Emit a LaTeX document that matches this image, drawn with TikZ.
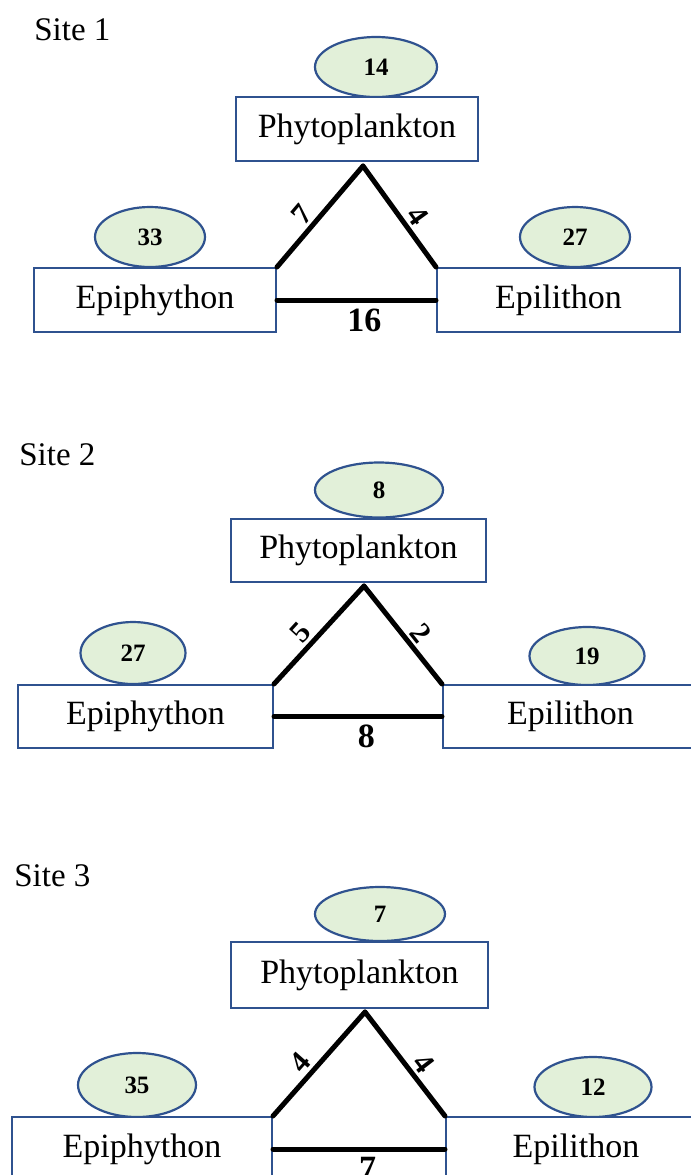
\documentclass[tikz,border=0pt]{standalone}
\usepackage{fontspec}
\setmainfont{Liberation Serif}
\usetikzlibrary{shapes.geometric}
\definecolor{boxblue}{HTML}{2F528F}
\definecolor{leaf}{HTML}{E2F0D9}
\newcommand{\lnk}[4]{\path (#1) edge node[pos=#4] {#2} (#3); }
\newcommand{\lnkb}[3]{\path (#1) edge node[swap,pos=0.55,bot] {#2} (#3); }

\begin{document}
\begin{tikzpicture}[x=0.5pt,y=-0.5pt,auto,
  site/.style={anchor=west,inner sep=0pt,font=\fontsize{16.5}{19}\selectfont},
  comm/.style={draw=boxblue,line width=1pt,fill=white,minimum height=32pt,inner sep=0pt,font=\fontsize{17}{20}\selectfont},
  cnt/.style={ellipse,draw=boxblue,line width=1.1pt,fill=leaf,inner sep=0pt,font=\fontsize{12.5}{15}\selectfont\bfseries},
  bot/.style={font=\fontsize{17}{20}\selectfont\bfseries,inner sep=3pt},
  every edge/.style={draw,line width=2.5pt,line cap=round},
  every node/.append style={sloped,font=\fontsize{15}{18}\selectfont\bfseries,inner sep=1.5pt}]
  \useasboundingbox (0,0) rectangle (691,1175);
  \clip (0,0) rectangle (691,1175);
  % site 1
  \node[site] (s1) at (34,30) {Site 1};
  \node[cnt,minimum width=61pt,minimum height=30pt] (n1) at (376,67) {14};
  \node[cnt,minimum width=55pt,minimum height=30pt] (n2) at (150,237) {33};
  \node[cnt,minimum width=55pt,minimum height=30pt] (n3) at (575,237) {27};
  \node[comm,minimum width=121pt] (phy1) at (357,129) {Phytoplankton};
  \node[comm,minimum width=121pt] (epp1) at (155,300) {Epiphython};
  \node[comm,minimum width=121.5pt] (epl1) at (558.5,300) {Epilithon};
  \coordinate (top1) at (363,166);
  \lnk{epp1.north east}{7}{top1}{0.42}
  \lnk{top1}{4}{epl1.north west}{0.58}
  \lnkb{epp1.east}{16}{epl1.west}
  % site 2
  \node[site] (s2) at (19,455) {Site 2};
  \node[cnt,minimum width=64pt,minimum height=27.5pt] (n4) at (379,490) {8};
  \node[cnt,minimum width=52.5pt,minimum height=31pt] (n5) at (133,653) {27};
  \node[cnt,minimum width=57.5pt,minimum height=29pt] (n6) at (587,656) {19};
  \node[comm,minimum width=127.5pt,minimum height=31.5pt] (phy2) at (358.5,550.5) {Phytoplankton};
  \node[comm,minimum width=127.5pt,minimum height=31.5pt] (epp2) at (145.5,716.5) {Epiphython};
  \node[comm,minimum width=127.5pt,minimum height=31.5pt] (epl2) at (570.5,716.5) {Epilithon};
  \coordinate (top2) at (364,586);
  \lnk{epp2.north east}{5}{top2}{0.42}
  \lnk{top2}{2}{epl2.north west}{0.58}
  \lnkb{epp2.east}{8}{epl2.west}
  % site 3
  \node[site] (s3) at (14,876) {Site 3};
  \node[cnt,minimum width=65pt,minimum height=27pt] (n7) at (380,914) {7};
  \node[cnt,minimum width=59pt,minimum height=32pt] (n8) at (137,1085) {35};
  \node[cnt,minimum width=58.5pt,minimum height=30pt] (n9) at (593,1087) {12};
  \node[comm,minimum width=128.5pt,minimum height=33pt] (phy3) at (359.5,975) {Phytoplankton};
  \node[comm,minimum width=130pt,minimum height=32pt] (epp3) at (142,1149) {Epiphython};
  \node[comm,minimum width=130pt,minimum height=32pt] (epl3) at (576,1149) {Epilithon};
  \coordinate (top3) at (365,1012);
  \lnk{epp3.north east}{4}{top3}{0.42}
  \lnk{top3}{4}{epl3.north west}{0.58}
  \lnkb{epp3.east}{7}{epl3.west}
\end{tikzpicture}
\end{document}
